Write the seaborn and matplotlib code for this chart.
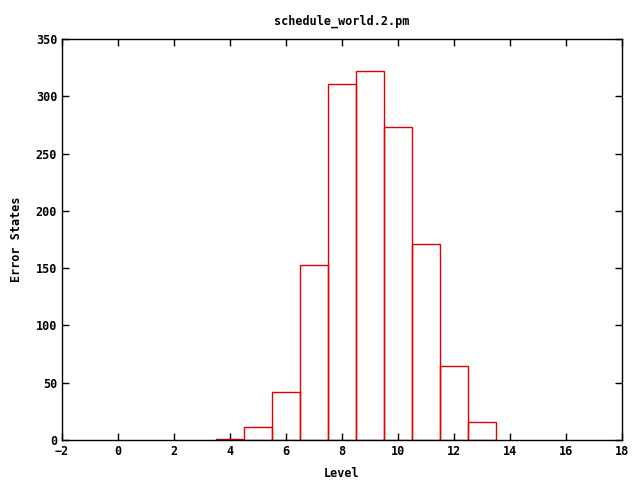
import matplotlib
matplotlib.use('Agg')
import pandas as pd
import matplotlib.pyplot as plt
import seaborn as sns

levels = [4, 5, 6, 7, 8, 9, 10, 11, 12, 13]
error_states = [1, 11, 42, 153, 311, 322, 273, 171, 65, 16]


def main():
    df = pd.DataFrame({'Level': levels, 'Error States': error_states})
    sns.set_style('ticks')
    plt.rcParams['font.family'] = ['DejaVu Sans Mono']
    plt.rcParams['font.weight'] = 'bold'
    plt.rcParams['font.size'] = 8.5
    plt.rcParams['text.color'] = 'black'
    plt.rcParams['axes.labelcolor'] = 'black'

    fig = plt.figure(figsize=(6.4, 4.8), dpi=100)
    ax = fig.add_axes([0.0969, 0.0833, 0.875, 0.8354])
    sns.histplot(data=df, x='Level', weights='Error States', discrete=True,
                 fill=False, color='#e00000', linewidth=1, ax=ax)

    ax.set_xlim(-2, 18)
    ax.set_ylim(0, 350)
    ax.set_xticks(range(-2, 19, 2))
    ax.set_yticks(range(0, 351, 50))
    ax.tick_params(direction='in', top=True, right=True, length=5, width=1,
                   labelsize=8.5, colors='black')
    for s in ax.spines.values():
        s.set_linewidth(1)
        s.set_color('black')
    ax.set_title('schedule_world.2.pm', fontsize=8.5, fontweight='bold',
                 pad=10, color='black')
    ax.set_xlabel('Level', fontsize=8.5, fontweight='bold', labelpad=6.5)
    ax.set_ylabel('Error States', fontsize=8.5, fontweight='bold', labelpad=9)
    fig.savefig('out.png', dpi=100)


if __name__ == '__main__':
    main()
